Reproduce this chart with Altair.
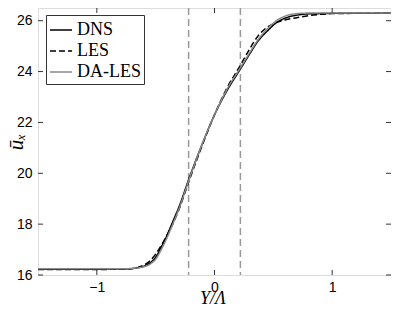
import altair as alt
import pandas as pd

# ---- data ----
x_pts = [-1.5, -1.0, -0.75, -0.65, -0.55, -0.5, -0.45, -0.4, -0.35, -0.3, -0.22,
         -0.1, 0.0, 0.1, 0.22, 0.3, 0.37, 0.45, 0.52, 0.6, 0.7, 0.8, 0.9, 1.0, 1.5]
dns = [16.23, 16.23, 16.24, 16.29, 16.47, 16.70, 17.12, 17.60, 18.15, 18.70, 19.75,
       21.20, 22.30, 23.20, 24.10, 24.70, 25.20, 25.60, 25.90, 26.10, 26.22, 26.27, 26.28, 26.29, 26.30]
les = [16.22, 16.22, 16.23, 16.30, 16.55, 16.82, 17.18, 17.60, 18.05, 18.60, 19.65,
       21.15, 22.30, 23.30, 24.25, 24.90, 25.40, 25.75, 25.92, 26.03, 26.12, 26.20, 26.25, 26.28, 26.30]
dales = [16.25, 16.25, 16.25, 16.28, 16.42, 16.62, 17.02, 17.50, 18.05, 18.62, 19.70,
         21.20, 22.30, 23.25, 24.15, 24.75, 25.25, 25.68, 25.98, 26.18, 26.28, 26.30, 26.30, 26.30, 26.30]
series_names = ["DNS", "LES", "DA-LES"]
vlines = [-0.22, 0.22]
x_ticks = [-1, 0, 1]
y_ticks = [16, 18, 20, 22, 24, 26]

rows = []
for name, ys in zip(series_names, [dns, les, dales]):
    for xv, yv in zip(x_pts, ys):
        rows.append({"x": xv, "y": yv, "series": name})
df = pd.DataFrame(rows)
vdf = pd.DataFrame({"x": vlines})
xt = pd.DataFrame({"x": x_ticks})
yt = pd.DataFrame({"y": y_ticks})

W, H = 353, 267
TL = 5

xscale = alt.Scale(domain=[-1.5, 1.5], nice=False, zero=False)
yscale = alt.Scale(domain=[16, 26.5], nice=False, zero=False)

xaxis = alt.Axis(values=x_ticks, format="d", tickSize=0, domain=False, grid=False,
                 labelFont="Liberation Sans", labelFontSize=14, labelColor="black",
                 labelPadding=5, title="Y/Λ", titleFont="Liberation Serif",
                 titleFontStyle="italic", titleFontWeight="normal", titleFontSize=18,
                 titleColor="black", titleX=W / 2 - 2, titleY=28,
                 titleBaseline="alphabetic", titleAnchor="middle", titleAlign="center")
yaxis = alt.Axis(values=y_ticks, format="d", tickSize=0, domain=False, grid=False,
                 labelFont="Liberation Sans", labelFontSize=14, labelColor="black",
                 labelPadding=6, title="ūₓ", titleFont="Liberation Serif",
                 titleFontStyle="italic", titleFontWeight="normal", titleFontSize=21,
                 titleColor="black", titleX=-12, titleY=H / 2, titleAngle=270,
                 titleBaseline="bottom", titleAlign="center")

legend_cfg = dict(title=None, orient="none", legendX=8, legendY=7,
                  symbolType="stroke", symbolSize=484, symbolStrokeWidth=1.6,
                  labelFont="Liberation Serif", labelFontSize=18, labelColor="black",
                  rowPadding=0, padding=3, strokeColor="#333333",
                  fillColor="white", labelOffset=4)

lines = alt.Chart(df).mark_line(interpolate="monotone", clip=True).encode(
    x=alt.X("x:Q", scale=xscale, axis=xaxis),
    y=alt.Y("y:Q", scale=yscale, axis=yaxis),
    color=alt.Color("series:N",
                    scale=alt.Scale(domain=series_names, range=["#000000", "#000000", "#8a8a8a"]),
                    legend=alt.Legend(**legend_cfg)),
    strokeDash=alt.StrokeDash("series:N",
                              scale=alt.Scale(domain=series_names,
                                              range=[[1, 0], [6, 3], [1, 0]]),
                              legend=alt.Legend(**legend_cfg)),
    strokeWidth=alt.StrokeWidth("series:N",
                                scale=alt.Scale(domain=series_names, range=[1.5, 1.5, 2.0]),
                                legend=None),
)

vl = alt.Chart(vdf).mark_rule(color="#999999", strokeWidth=1.5, strokeDash=[7, 4]).encode(
    x=alt.X("x:Q", scale=xscale)
)

tick_style = dict(color="#333333", strokeWidth=1)
bt = alt.Chart(xt).mark_rule(**tick_style).encode(
    x=alt.X("x:Q", scale=xscale), y=alt.value(H), y2=alt.value(H - TL))
tt = alt.Chart(xt).mark_rule(**tick_style).encode(
    x=alt.X("x:Q", scale=xscale), y=alt.value(0), y2=alt.value(TL))
lt = alt.Chart(yt).mark_rule(**tick_style).encode(
    y=alt.Y("y:Q", scale=yscale), x=alt.value(0), x2=alt.value(TL))
rt = alt.Chart(yt).mark_rule(**tick_style).encode(
    y=alt.Y("y:Q", scale=yscale), x=alt.value(W), x2=alt.value(W - TL))

chart = alt.layer(vl, bt, tt, lt, rt, lines).properties(
    width=W, height=H,
    autosize=alt.AutoSizeParams(type="none"),
    padding={"left": 30, "top": 0, "right": 0, "bottom": 32},
).configure_view(stroke="#333333", strokeWidth=1).configure(background="white")

chart.save("out.html", embed_options={"renderer": "svg", "actions": False})
